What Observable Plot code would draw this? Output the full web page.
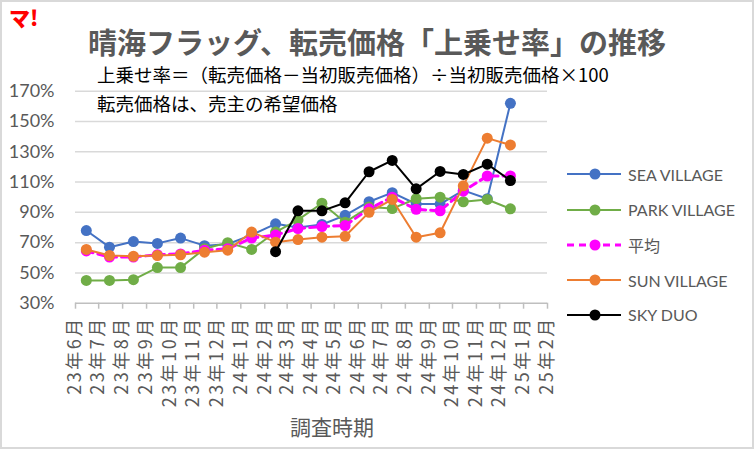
<!DOCTYPE html>
<html><head><meta charset="utf-8">
<script src="https://cdn.jsdelivr.net/npm/d3@7"></script>
<script src="https://cdn.jsdelivr.net/npm/@observablehq/plot@0.6"></script>
<style>
body{margin:0;background:#fff;}
#wrap{position:relative;width:754px;height:449px;overflow:hidden;background:#fff;font-family:"Noto Sans CJK JP",sans-serif;}
#wrap > svg{position:absolute;left:0;top:0;}
.abs{position:absolute;white-space:nowrap;line-height:1;}
#border{position:absolute;left:0;top:0;width:750px;height:445px;border:2px solid #d9d9d9;pointer-events:none;}
#logo{left:9px;top:7px;font-size:21px;font-weight:900;color:#ff0000;}
#title{left:88px;top:27px;font-size:29px;font-weight:700;color:#595959;}
#sub1{left:97px;top:65px;font-size:18.5px;color:#000;}
#sub2{left:97px;top:94px;font-size:18.5px;color:#000;}
#xtitle{left:290px;top:416px;font-size:21px;color:#595959;}
.leg{position:absolute;left:566px;height:20px;display:flex;align-items:center;font-family:Lato,"Noto Sans CJK JP",sans-serif;font-size:16px;color:#595959;}
.leg svg{margin-right:6px;}
.xt text{letter-spacing:2.5px;}
</style></head><body><div id="wrap"></div>
<script>
// survey dates (one per month)
const surveyDates = ["2023-06-15","2023-07-15","2023-08-15","2023-09-15","2023-10-15","2023-11-15","2023-12-15",
  "2024-01-15","2024-02-15","2024-03-15","2024-04-15","2024-05-15","2024-06-15","2024-07-15","2024-08-15",
  "2024-09-15","2024-10-15","2024-11-15","2024-12-15"];
const seaVillage  = [78, 67, 70.7, 69.5, 73, 68, 69, 75, 82.4, 80, 82, 88, 97, 103, 95.5, 95.5, 104.5, 99, 162];
const parkVillage = [45, 45, 45.5, 53.5, 53.5, 66, 70, 65.5, 77, 85, 96, 83.5, 93.5, 92.5, 99, 100, 97, 98.5, 92.3];
const average     = [64.5, 60.5, 60.5, 62, 62.5, 65, 66, 73, 75, 79.3, 80.6, 81.3, 92.3, 100, 92, 91, 104, 114, 114];
const sunVillage  = [65.5, 61.5, 61, 61.5, 62, 63.7, 65, 77, 70.3, 72, 73.6, 74.2, 90, 98.5, 73.6, 76.5, 107.5, 139, 134.5];
const skyDuo      = [null, null, null, null, null, null, null, null, 64, 91, 91, 96.3, 116.8, 124.3, 105.5, 117, 115, 121.8, 111];
const seriesNames = ["SEA VILLAGE", "PARK VILLAGE", "平均", "SUN VILLAGE", "SKY DUO"];
const seriesValues = [seaVillage, parkVillage, average, sunVillage, skyDuo];
const seriesColors = ["#4472C4", "#70AD47", "#FF00FF", "#ED7D31", "#000000"];
const yTicks = [30, 50, 70, 90, 110, 130, 150, 170];
const xAxisStart = "2023-06-01", xAxisEnd = "2025-02-01";
const titleText = "晴海フラッグ、転売価格「上乗せ率」の推移";
const subText1 = "上乗せ率＝（転売価格－当初販売価格）÷当初販売価格×100";
const subText2 = "転売価格は、売主の希望価格";
const xTitle = "調査時期";

const parse = d3.utcParse("%Y-%m-%d");
const xTicks = d3.utcMonth.range(parse(xAxisStart), d3.utcDay.offset(parse(xAxisEnd), 1));
const fmtTick = d => `${String(d.getUTCFullYear()).slice(2)}年${d.getUTCMonth() + 1}月`;

const marks = [
  Plot.ruleY(yTicks.slice(1), {stroke: "#d9d9d9", strokeWidth: 1.5}),
  Plot.ruleY([yTicks[0]], {stroke: "#bfbfbf", strokeWidth: 1.5}),
  Plot.axisY({ticks: yTicks, tickSize: 0, tickPadding: 21, tickFormat: d => d + "%", label: null,
    fontSize: 18, fill: "#595959", fontFamily: "Lato, 'Noto Sans CJK JP', sans-serif"}),
  Plot.axisX({ticks: xTicks, tickFormat: fmtTick, tickRotate: -90, tickSize: 6, tickPadding: 7, label: null,
    stroke: "#bfbfbf", strokeWidth: 1.5, strokeOpacity: 1, fill: "#595959", fontSize: 18, className: "xt"})
];
seriesNames.forEach((name, i) => {
  const rows = surveyDates.map((d, j) => ({date: parse(d), value: seriesValues[i][j]})).filter(r => r.value != null);
  const dashed = name === "平均";
  marks.push(Plot.line(rows, {x: "date", y: "value", stroke: seriesColors[i],
    strokeWidth: dashed ? 3 : 2, strokeDasharray: dashed ? "7,5" : null}));
  marks.push(Plot.dot(rows, {x: "date", y: "value", fill: seriesColors[i], r: 5.5}));
});

const chart = Plot.plot({
  width: 754, height: 449,
  marginLeft: 75, marginRight: 207, marginTop: 90.7, marginBottom: 146.3,
  style: {background: "transparent", fontFamily: "'Noto Sans CJK JP', sans-serif", overflow: "visible"},
  x: {type: "utc", domain: [parse(xAxisStart), parse(xAxisEnd)]},
  y: {domain: [30, 170]},
  marks
});
const wrap = document.getElementById("wrap");
wrap.appendChild(chart);

function addText(id, text) {
  const el = document.createElement("div");
  el.className = "abs"; el.id = id; el.textContent = text; wrap.appendChild(el);
}
addText("logo", "マ!");
addText("title", titleText);
addText("sub1", subText1);
addText("sub2", subText2);
addText("xtitle", xTitle);

const legendY = [174, 209.5, 245, 280, 314.5];
seriesNames.forEach((name, i) => {
  const div = document.createElement("div");
  div.className = "leg";
  div.style.top = (legendY[i] - 10) + "px";
  const dashed = name === "平均";
  div.innerHTML = `<svg width="56" height="20"><line x1="1" x2="55" y1="10" y2="10" stroke="${seriesColors[i]}" stroke-width="${dashed ? 3 : 2}" ${dashed ? 'stroke-dasharray="7,5"' : ''}/><circle cx="29" cy="10" r="5.5" fill="${seriesColors[i]}"/></svg><span>${name}</span>`;
  wrap.appendChild(div);
});
const b = document.createElement("div"); b.id = "border"; wrap.appendChild(b);
</script>
</body></html>
